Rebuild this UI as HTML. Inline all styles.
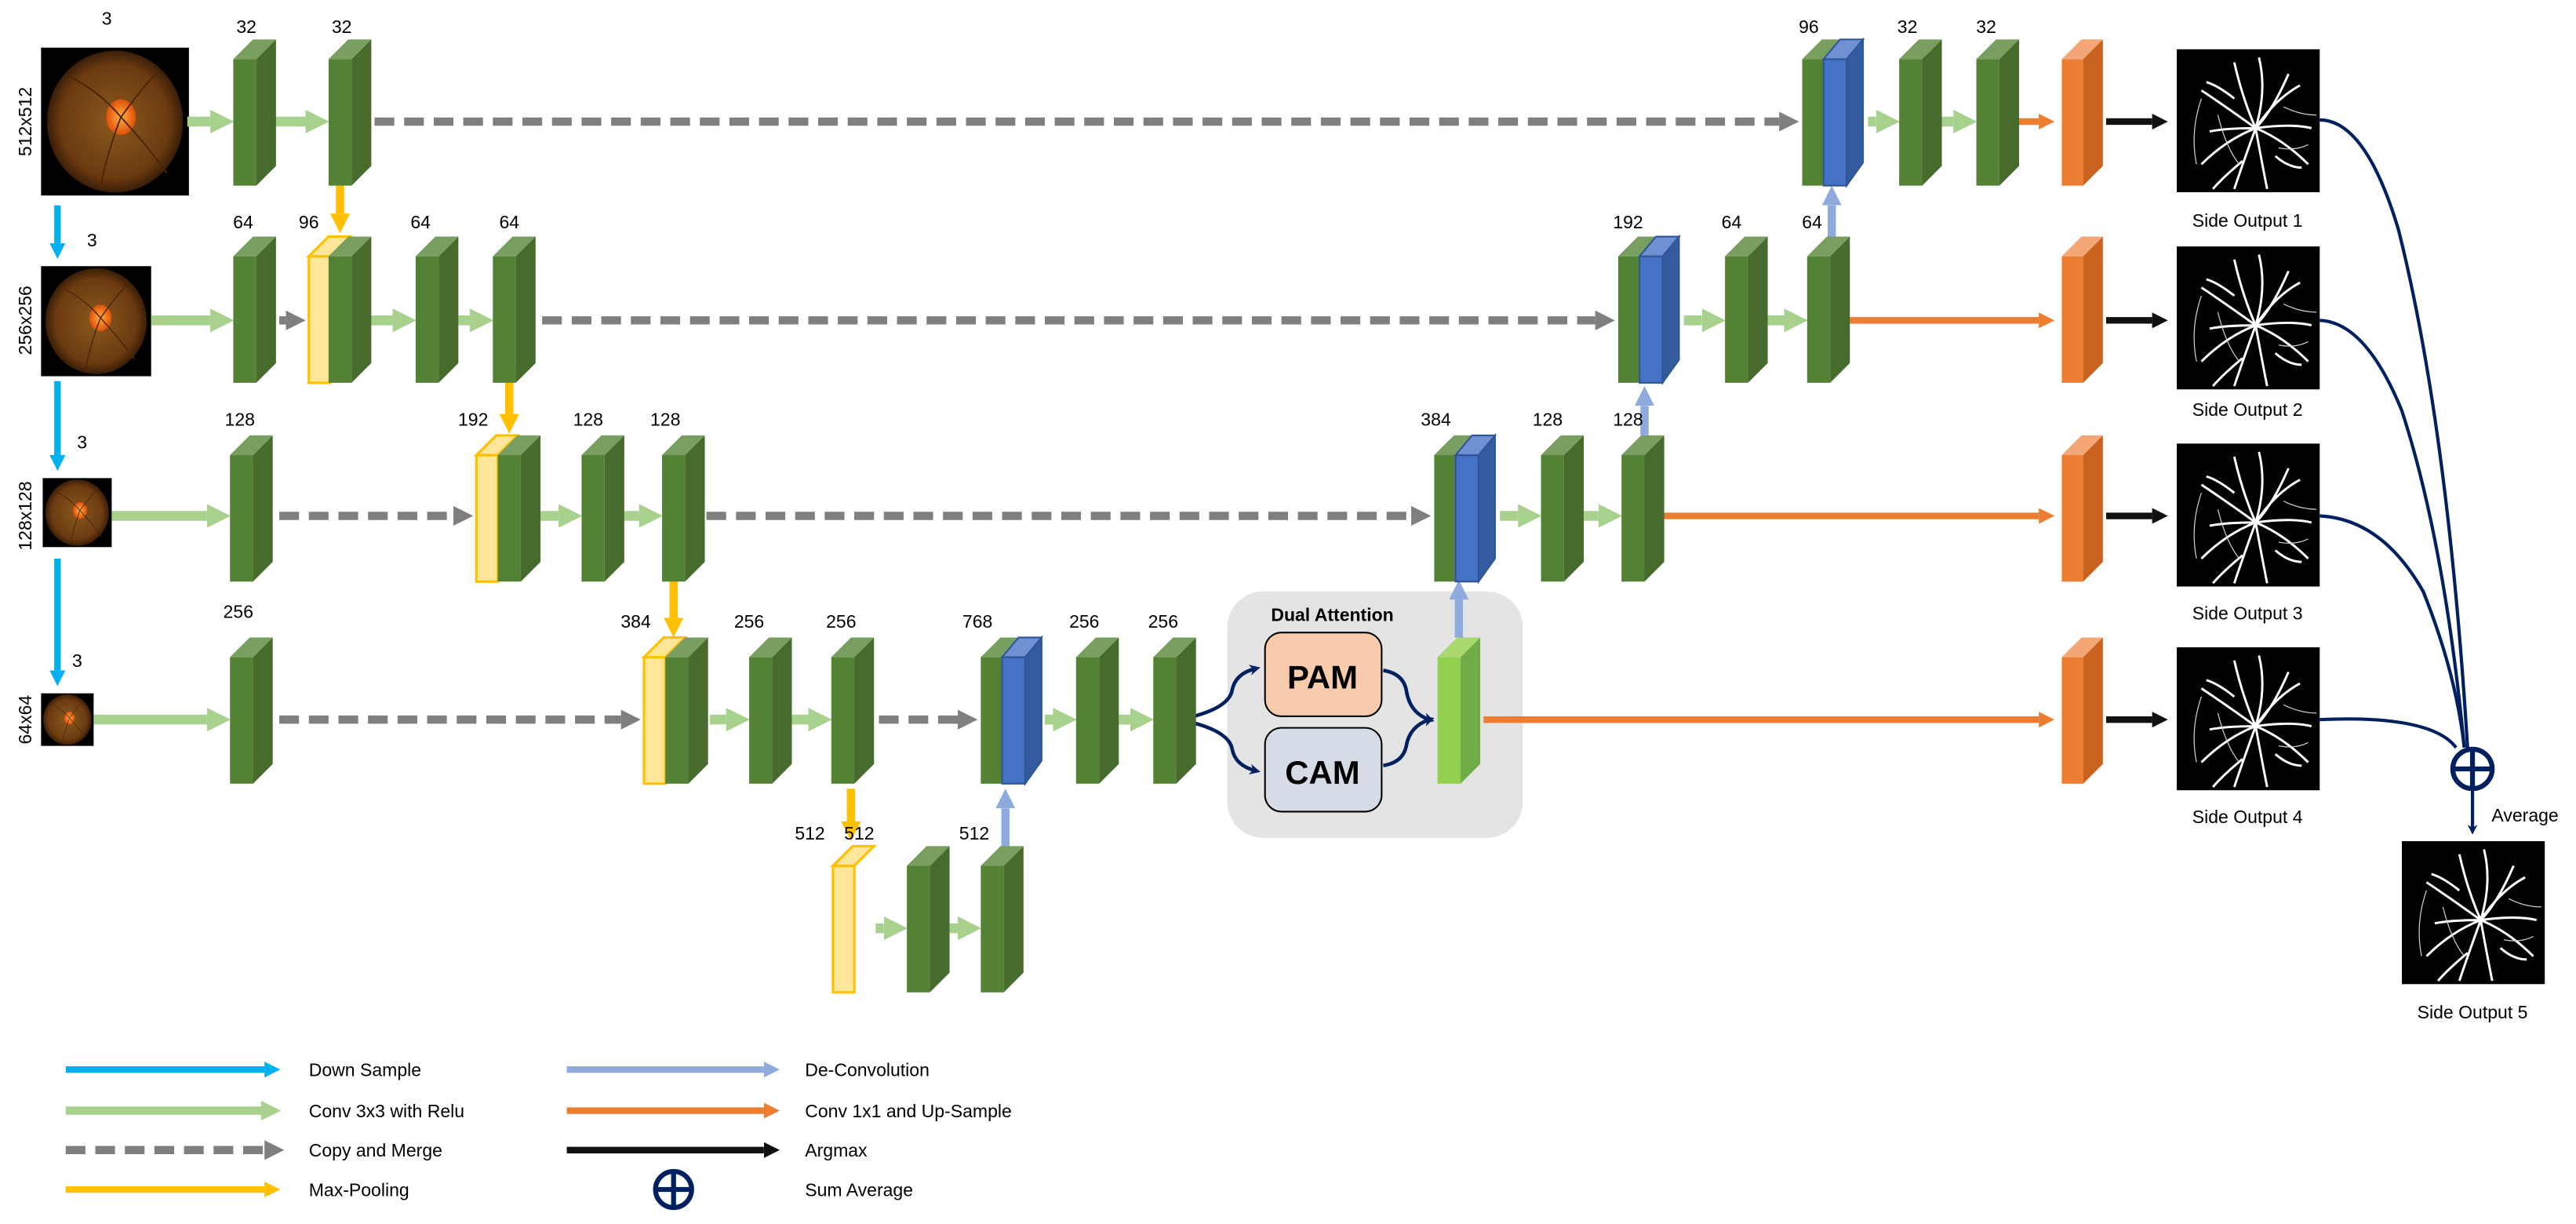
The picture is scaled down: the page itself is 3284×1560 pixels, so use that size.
<!DOCTYPE html>
<html><head><meta charset="utf-8"><style>
html,body{margin:0;padding:0;background:#fff;width:3284px;height:1560px;overflow:hidden}
svg{display:block}
text{font-family:"Liberation Sans",sans-serif;fill:#000}
</style></head><body>
<svg width="3284" height="1560" viewBox="0 0 1568 745" preserveAspectRatio="none" xmlns="http://www.w3.org/2000/svg">
<defs>
<g id="gb"><rect x="0" y="0" width="14" height="77" fill="#548235"/><polygon points="14,0 26,-12 26,65 14,77" fill="#466b2d"/><polygon points="0,0 12,-12 26,-12 14,0" fill="#789f5f"/></g>
<g id="yb"><rect x="0" y="0" width="13" height="77" fill="#ffe699" stroke="#ffc000" stroke-width="1.5"/><polygon points="0,0 12,-12 25,-12 13,0" fill="#ffe699" stroke="#ffc000" stroke-width="1.5"/></g>
<g id="bb"><rect x="0" y="0" width="14" height="77" fill="#4472c4" stroke="#2f5597" stroke-width="1"/><polygon points="14,0 24,-12 24,63 14,77" fill="#335b9e" stroke="#2f5597" stroke-width="1"/><polygon points="0,0 10,-12 24,-12 14,0" fill="#6f90d2" stroke="#2f5597" stroke-width="1"/></g>
<g id="ob"><rect x="0" y="0" width="13" height="77" fill="#ed7d31"/><polygon points="13,0 25,-12 25,65 13,77" fill="#c8621e"/><polygon points="0,0 12,-12 25,-12 13,0" fill="#f4a676"/></g>
<g id="lb"><rect x="0" y="0" width="14" height="77" fill="#92d050"/><polygon points="14,0 26,-12 26,65 14,77" fill="#70ad47"/><polygon points="0,0 12,-12 26,-12 14,0" fill="#a9d86e"/></g>
<radialGradient id="fg" cx="0.5" cy="0.5" r="0.5"><stop offset="0" stop-color="#8a5a1e"/><stop offset="0.8" stop-color="#6b3a10"/><stop offset="1" stop-color="#3a1e08"/></radialGradient>
<radialGradient id="od" cx="0.5" cy="0.5" r="0.5"><stop offset="0" stop-color="#ffb040"/><stop offset="1" stop-color="#e0500a"/></radialGradient>
<g id="fund"><rect x="0" y="0" width="100" height="100" fill="#000"/><ellipse cx="50" cy="50" rx="46" ry="48" fill="url(#fg)"/><ellipse cx="54" cy="47" rx="10" ry="12" fill="url(#od)"/><path d="M54 47 Q40 30 20 20 M54 47 Q70 25 80 15 M54 47 Q45 70 40 95 M54 47 Q75 70 85 85" stroke="#4a2508" stroke-width="1" fill="none"/></g>
<g id="vess"><rect x="0" y="0" width="87" height="87" fill="#000"/>
<g stroke="#fff" fill="none" stroke-width="1.4">
<path d="M48 48 Q40 30 35 8 M48 48 Q55 25 50 5 M48 48 Q30 35 15 25 M35 30 Q25 22 18 20 M48 48 Q60 30 75 22 M48 48 Q58 38 68 15 M48 48 Q65 55 80 70 M48 48 Q52 70 55 85 M48 48 Q40 70 35 85 M48 48 Q30 55 15 70 M48 48 Q30 48 20 50 M48 48 Q70 45 82 48 M40 68 Q28 78 22 85 M60 65 Q68 72 76 72"/>
</g><g stroke="#ccc" fill="none" stroke-width="0.6"><path d="M15 30 Q8 50 12 70 M25 40 Q30 60 38 70 M65 35 Q75 40 85 40 M62 60 Q72 62 80 58"/></g></g>
<marker id="mG" viewBox="0 0 10 10" refX="0" refY="5" markerWidth="2.4" markerHeight="2.4" orient="auto"><path d="M0 0 L10 5 L0 10z" fill="#a9d18e"/></marker>
<marker id="mY" viewBox="0 0 10 10" refX="0" refY="5" markerWidth="2.4" markerHeight="2.4" orient="auto"><path d="M0 0 L10 5 L0 10z" fill="#ffc000"/></marker>
<marker id="mS" viewBox="0 0 10 10" refX="0" refY="5" markerWidth="2.4" markerHeight="2.4" orient="auto"><path d="M0 0 L10 5 L0 10z" fill="#00b0f0"/></marker>
<marker id="mD" viewBox="0 0 10 10" refX="0" refY="5" markerWidth="2.4" markerHeight="2.4" orient="auto"><path d="M0 0 L10 5 L0 10z" fill="#8faadc"/></marker>
<marker id="mO" viewBox="0 0 10 10" refX="0" refY="5" markerWidth="2.4" markerHeight="2.4" orient="auto"><path d="M0 0 L10 5 L0 10z" fill="#ed7d31"/></marker>
<marker id="mK" viewBox="0 0 10 10" refX="0" refY="5" markerWidth="2.4" markerHeight="2.4" orient="auto"><path d="M0 0 L10 5 L0 10z" fill="#111"/></marker>
<marker id="mA" viewBox="0 0 10 10" refX="0" refY="5" markerWidth="2.4" markerHeight="2.4" orient="auto"><path d="M0 0 L10 5 L0 10z" fill="#7f7f7f"/></marker>
<marker id="mN" viewBox="0 0 10 10" refX="5" refY="5" markerWidth="3" markerHeight="3" orient="auto"><path d="M0 0 L10 5 L0 10 L3 5z" fill="#002060"/></marker>
</defs>

<!-- Dual attention box -->
<rect x="747" y="360" width="180" height="150" rx="22" fill="#e4e4e4"/>
<text x="811" y="378" font-size="11" font-weight="bold" text-anchor="middle">Dual Attention</text>
<rect x="770" y="385" width="71" height="51" rx="10" fill="#f8cbad" stroke="#000" stroke-width="1"/>
<text x="805" y="419" font-size="20" font-weight="bold" text-anchor="middle">PAM</text>
<rect x="770" y="443" width="71" height="51" rx="10" fill="#d6dce5" stroke="#000" stroke-width="1"/>
<text x="805" y="477" font-size="20" font-weight="bold" text-anchor="middle">CAM</text>
<g stroke="#002060" stroke-width="2.2" fill="none">
<path d="M718 438 Q748 432 750 420 Q752 410 764 407" marker-end="url(#mN)"/>
<path d="M718 438 Q748 444 750 456 Q752 466 764 469" marker-end="url(#mN)"/>
<path d="M842 408 Q854 410 856 420 Q858 434 870 438" marker-end="url(#mN)"/>
<path d="M842 466 Q854 464 856 454 Q858 442 870 438" marker-end="url(#mN)"/>
</g>

<!-- input images -->
<use href="#fund" transform="translate(25,29) scale(0.9,0.9)"/>
<use href="#fund" transform="translate(25,162) scale(0.67,0.67)"/>
<use href="#fund" transform="translate(26,291) scale(0.42,0.42)"/>
<use href="#fund" transform="translate(25,422) scale(0.32,0.32)"/>
<g font-size="11">
<text x="65" y="15" text-anchor="middle">3</text>
<text x="56" y="150" text-anchor="middle">3</text>
<text x="50" y="273" text-anchor="middle">3</text>
<text x="47" y="406" text-anchor="middle">3</text>
<text transform="translate(19,74) rotate(-90)" text-anchor="middle">512x512</text>
<text transform="translate(19,195) rotate(-90)" text-anchor="middle">256x256</text>
<text transform="translate(19,314) rotate(-90)" text-anchor="middle">128x128</text>
<text transform="translate(19,438) rotate(-90)" text-anchor="middle">64x64</text>
</g>

<!-- downsample arrows -->
<g stroke="#00b0f0" stroke-width="4" fill="none">
<line x1="35" y1="125" x2="35" y2="148" marker-end="url(#mS)"/>
<line x1="35" y1="232" x2="35" y2="277" marker-end="url(#mS)"/>
<line x1="35" y1="340" x2="35" y2="408" marker-end="url(#mS)"/>
</g>

<!-- dashed copy -->
<g stroke="#7f7f7f" stroke-width="5" stroke-dasharray="12,6" fill="none">
<line x1="228" y1="74" x2="1083" y2="74" marker-end="url(#mA)"/>
<line x1="330" y1="195" x2="971" y2="195" marker-end="url(#mA)"/>
<line x1="170" y1="314" x2="276" y2="314" marker-end="url(#mA)"/>
<line x1="430" y1="314" x2="859" y2="314" marker-end="url(#mA)"/>
<line x1="170" y1="438" x2="378" y2="438" marker-end="url(#mA)"/>
<line x1="535" y1="438" x2="583" y2="438" marker-end="url(#mA)"/>
</g>
<line x1="170" y1="195" x2="174" y2="195" stroke="#7f7f7f" stroke-width="5" marker-end="url(#mA)"/>

<!-- green conv arrows -->
<g stroke="#a9d18e" stroke-width="6" fill="none">
<line x1="114" y1="74" x2="128" y2="74" marker-end="url(#mG)"/>
<line x1="167" y1="74" x2="186" y2="74" marker-end="url(#mG)"/>
<line x1="92" y1="195" x2="128" y2="195" marker-end="url(#mG)"/>
<line x1="225" y1="195" x2="239" y2="195" marker-end="url(#mG)"/>
<line x1="279" y1="195" x2="286" y2="195" marker-end="url(#mG)"/>
<line x1="68" y1="314" x2="126" y2="314" marker-end="url(#mG)"/>
<line x1="329" y1="314" x2="340" y2="314" marker-end="url(#mG)"/>
<line x1="380" y1="314" x2="389" y2="314" marker-end="url(#mG)"/>
<line x1="57" y1="438" x2="126" y2="438" marker-end="url(#mG)"/>
<line x1="432" y1="438" x2="442" y2="438" marker-end="url(#mG)"/>
<line x1="482" y1="438" x2="492" y2="438" marker-end="url(#mG)"/>
<line x1="636" y1="438" x2="641" y2="438" marker-end="url(#mG)"/>
<line x1="681" y1="438" x2="688" y2="438" marker-end="url(#mG)"/>
<line x1="533" y1="565" x2="538" y2="565" marker-end="url(#mG)"/>
<line x1="578" y1="565" x2="583" y2="565" marker-end="url(#mG)"/>
<line x1="913" y1="314" x2="924" y2="314" marker-end="url(#mG)"/>
<line x1="962" y1="314" x2="973" y2="314" marker-end="url(#mG)"/>
<line x1="1025" y1="195" x2="1036" y2="195" marker-end="url(#mG)"/>
<line x1="1074" y1="195" x2="1086" y2="195" marker-end="url(#mG)"/>
<line x1="1137" y1="74" x2="1142" y2="74" marker-end="url(#mG)"/>
<line x1="1180" y1="74" x2="1189" y2="74" marker-end="url(#mG)"/>
</g>

<!-- maxpool arrows -->
<g stroke="#ffc000" stroke-width="5" fill="none">
<line x1="207" y1="113" x2="207" y2="130" marker-end="url(#mY)"/>
<line x1="310" y1="233" x2="310" y2="252" marker-end="url(#mY)"/>
<line x1="410" y1="353" x2="410" y2="376" marker-end="url(#mY)"/>
<line x1="518" y1="480" x2="518" y2="500" marker-end="url(#mY)"/>
</g>
<!-- deconv arrows -->
<g stroke="#8faadc" stroke-width="5" fill="none">
<line x1="612" y1="527" x2="612" y2="492" marker-end="url(#mD)"/>
<line x1="888" y1="388" x2="888" y2="365" marker-end="url(#mD)"/>
<line x1="1001" y1="265" x2="1001" y2="247" marker-end="url(#mD)"/>
<line x1="1115" y1="144" x2="1115" y2="125" marker-end="url(#mD)"/>
</g>
<!-- orange -->
<g stroke="#ed7d31" stroke-width="4" fill="none">
<line x1="903" y1="438" x2="1241" y2="438" marker-end="url(#mO)"/>
<line x1="1012" y1="314" x2="1241" y2="314" marker-end="url(#mO)"/>
<line x1="1125" y1="195" x2="1241" y2="195" marker-end="url(#mO)"/>
<line x1="1228" y1="74" x2="1241" y2="74" marker-end="url(#mO)"/>
</g>
<!-- argmax -->
<g stroke="#111" stroke-width="4" fill="none">
<line x1="1282" y1="74" x2="1310" y2="74" marker-end="url(#mK)"/>
<line x1="1282" y1="195" x2="1310" y2="195" marker-end="url(#mK)"/>
<line x1="1282" y1="314" x2="1310" y2="314" marker-end="url(#mK)"/>
<line x1="1282" y1="438" x2="1310" y2="438" marker-end="url(#mK)"/>
</g>

<!-- blocks -->
<use href="#gb" x="142" y="36"/><use href="#gb" x="200" y="36"/>
<use href="#gb" x="142" y="156"/><use href="#yb" x="188" y="156"/><use href="#gb" x="200" y="156"/><use href="#gb" x="253" y="156"/><use href="#gb" x="300" y="156"/>
<use href="#gb" x="140" y="277"/><use href="#yb" x="290" y="277"/><use href="#gb" x="303" y="277"/><use href="#gb" x="354" y="277"/><use href="#gb" x="403" y="277"/>
<use href="#gb" x="140" y="400"/><use href="#yb" x="392" y="400"/><use href="#gb" x="405" y="400"/><use href="#gb" x="456" y="400"/><use href="#gb" x="506" y="400"/>
<use href="#gb" x="597" y="400"/><use href="#bb" x="610" y="400"/><use href="#gb" x="655" y="400"/><use href="#gb" x="702" y="400"/>
<use href="#yb" x="507" y="527"/><use href="#gb" x="552" y="527"/><use href="#gb" x="597" y="527"/>
<use href="#lb" x="875" y="400"/>
<use href="#gb" x="873" y="277"/><use href="#bb" x="886" y="277"/><use href="#gb" x="938" y="277"/><use href="#gb" x="987" y="277"/>
<use href="#gb" x="985" y="156"/><use href="#bb" x="998" y="156"/><use href="#gb" x="1050" y="156"/><use href="#gb" x="1100" y="156"/>
<use href="#gb" x="1097" y="36"/><use href="#bb" x="1110" y="36"/><use href="#gb" x="1156" y="36"/><use href="#gb" x="1203" y="36"/>
<use href="#ob" x="1255" y="36"/><use href="#ob" x="1255" y="156"/><use href="#ob" x="1255" y="277"/><use href="#ob" x="1255" y="400"/>

<!-- numbers -->
<g font-size="11" text-anchor="middle">
<text x="150" y="20">32</text><text x="208" y="20">32</text>
<text x="148" y="139">64</text><text x="188" y="139">96</text><text x="256" y="139">64</text><text x="310" y="139">64</text>
<text x="146" y="259">128</text><text x="288" y="259">192</text><text x="358" y="259">128</text><text x="405" y="259">128</text>
<text x="145" y="376">256</text><text x="387" y="382">384</text><text x="456" y="382">256</text><text x="512" y="382">256</text>
<text x="595" y="382">768</text><text x="660" y="382">256</text><text x="708" y="382">256</text>
<text x="493" y="511">512</text><text x="523" y="511">512</text><text x="593" y="511">512</text>
<text x="874" y="259">384</text><text x="942" y="259">128</text><text x="991" y="259">128</text>
<text x="991" y="139">192</text><text x="1054" y="139">64</text><text x="1103" y="139">64</text>
<text x="1101" y="20">96</text><text x="1161" y="20">32</text><text x="1209" y="20">32</text>
</g>

<!-- outputs -->
<use href="#vess" x="1325" y="30"/>
<use href="#vess" x="1325" y="150"/>
<use href="#vess" x="1325" y="270"/>
<use href="#vess" x="1325" y="394"/>
<use href="#vess" x="1462" y="512"/>
<g font-size="11" text-anchor="middle">
<text x="1368" y="138">Side Output 1</text>
<text x="1368" y="253">Side Output 2</text>
<text x="1368" y="377">Side Output 3</text>
<text x="1368" y="501">Side Output 4</text>
<text x="1505" y="620">Side Output 5</text>
<text x="1537" y="500">Average</text>
</g>
<g stroke="#002060" stroke-width="2" fill="none">
<path d="M1412 73 Q1440 73 1460 140 Q1490 260 1502 455"/>
<path d="M1412 195 Q1440 196 1462 250 Q1488 330 1500 455"/>
<path d="M1412 314 Q1450 316 1475 360 Q1495 410 1500 455"/>
<path d="M1412 438 Q1480 435 1495 455"/>
<line x1="1505" y1="481" x2="1505" y2="505" marker-end="url(#mN)"/>
</g>
<circle cx="1505" cy="468" r="12" fill="#fff" stroke="#002060" stroke-width="3"/>
<line x1="1493" y1="468" x2="1517" y2="468" stroke="#002060" stroke-width="3"/>
<line x1="1505" y1="456" x2="1505" y2="480" stroke="#002060" stroke-width="3"/>

<!-- legend -->
<line x1="40" y1="651" x2="161" y2="651" stroke="#00b0f0" stroke-width="4" marker-end="url(#mS)"/>
<line x1="40" y1="676" x2="159" y2="676" stroke="#a9d18e" stroke-width="5" marker-end="url(#mG)"/>
<line x1="40" y1="700" x2="161" y2="700" stroke="#7f7f7f" stroke-width="5" stroke-dasharray="12,6" marker-end="url(#mA)"/>
<line x1="40" y1="724" x2="161" y2="724" stroke="#ffc000" stroke-width="4" marker-end="url(#mY)"/>
<line x1="345" y1="651" x2="465" y2="651" stroke="#8faadc" stroke-width="4" marker-end="url(#mD)"/>
<line x1="345" y1="676" x2="465" y2="676" stroke="#ed7d31" stroke-width="4" marker-end="url(#mO)"/>
<line x1="345" y1="700" x2="465" y2="700" stroke="#111" stroke-width="4" marker-end="url(#mK)"/>
<circle cx="410" cy="724" r="11" fill="#fff" stroke="#002060" stroke-width="3"/>
<line x1="399" y1="724" x2="421" y2="724" stroke="#002060" stroke-width="3"/>
<line x1="410" y1="713" x2="410" y2="735" stroke="#002060" stroke-width="3"/>
<g font-size="11">
<text x="188" y="655">Down Sample</text>
<text x="188" y="680">Conv 3x3 with Relu</text>
<text x="188" y="704">Copy and Merge</text>
<text x="188" y="728">Max-Pooling</text>
<text x="490" y="655">De-Convolution</text>
<text x="490" y="680">Conv 1x1 and Up-Sample</text>
<text x="490" y="704">Argmax</text>
<text x="490" y="728">Sum Average</text>
</g>
</svg>
</body></html>
